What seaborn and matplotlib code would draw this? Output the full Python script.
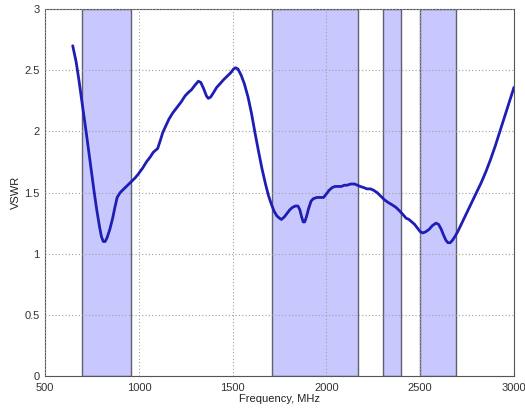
import matplotlib
matplotlib.use("Agg")
import matplotlib.pyplot as plt
import seaborn as sns
import pandas as pd

freq_mhz = [647, 665, 680, 700, 720, 740, 760, 775, 790, 800, 810, 820, 830, 845, 860, 872,
            884, 900, 920, 940, 960, 980, 996, 1020, 1040, 1060, 1077, 1100,
            1115, 1127, 1145, 1160, 1180, 1200, 1225, 1246, 1265, 1280, 1300, 1317, 1330,
            1345, 1360, 1370, 1382, 1395, 1415, 1433, 1450, 1470, 1490, 1505, 1515, 1528,
            1545, 1562, 1582, 1600, 1620, 1640, 1657, 1675, 1690, 1705, 1720, 1735, 1750,
            1760, 1775, 1790, 1805, 1820, 1835, 1848, 1858, 1868, 1876, 1884, 1893, 1905,
            1918, 1930, 1950, 1970, 1985, 2000, 2015, 2030, 2046, 2065, 2080, 2095, 2110,
            2130, 2150, 2165, 2180, 2200, 2216, 2235, 2250, 2270, 2290, 2310, 2328, 2350,
            2370, 2390, 2408, 2425, 2440, 2455, 2470, 2485, 2500, 2515, 2530, 2548, 2565,
            2584, 2598, 2612, 2625, 2637, 2648, 2660, 2672, 2685, 2700, 2725, 2750, 2775,
            2800, 2825, 2850, 2875, 2900, 2925, 2950, 2975, 3000]
vswr = [2.70, 2.57, 2.42, 2.20, 1.98, 1.75, 1.52, 1.36, 1.22, 1.14, 1.10, 1.10, 1.13, 1.20, 1.29, 1.38,
        1.46, 1.50, 1.53, 1.56, 1.59, 1.62, 1.65, 1.70, 1.75, 1.79, 1.83, 1.86,
        1.93, 1.99, 2.05, 2.10, 2.15, 2.19, 2.24, 2.29, 2.32, 2.34, 2.38, 2.41, 2.40,
        2.35, 2.29, 2.27, 2.28, 2.31, 2.36, 2.39, 2.42, 2.45, 2.48, 2.51, 2.52, 2.51,
        2.46, 2.39, 2.28, 2.15, 1.98, 1.82, 1.69, 1.57, 1.48, 1.41, 1.35, 1.31, 1.29,
        1.28, 1.30, 1.33, 1.36, 1.38, 1.39, 1.39, 1.36, 1.30, 1.26, 1.26, 1.30, 1.37,
        1.43, 1.45, 1.46, 1.46, 1.46, 1.49, 1.52, 1.54, 1.55, 1.55, 1.55, 1.56, 1.56,
        1.57, 1.57, 1.56, 1.55, 1.54, 1.53, 1.53, 1.52, 1.50, 1.47, 1.44, 1.42, 1.40,
        1.38, 1.35, 1.32, 1.29, 1.28, 1.26, 1.24, 1.21, 1.18, 1.17, 1.18, 1.20, 1.23,
        1.25, 1.24, 1.20, 1.15, 1.11, 1.09, 1.09, 1.11, 1.14, 1.18, 1.26, 1.34, 1.42,
        1.50, 1.58, 1.67, 1.77, 1.88, 2.00, 2.12, 2.24, 2.36]

band_lo = [698, 1710, 2300, 2500]
band_hi = [960, 2170, 2400, 2690]

x_ticks = [500, 1000, 1500, 2000, 2500, 3000]
y_ticks = [0, 0.5, 1, 1.5, 2, 2.5, 3]
y_tick_labels = ["0", "0.5", "1", "1.5", "2", "2.5", "3"]

sns.set_style("white")
plt.rcParams["font.family"] = ["Liberation Sans", "DejaVu Sans"]

fig = plt.figure(figsize=(5.25, 4.11), dpi=100)
ax = fig.add_axes([0.086, 0.085, 0.893, 0.893])

for lo, hi in zip(band_lo, band_hi):
    ax.axvspan(lo, hi, facecolor="#c8c8ff", edgecolor="#606070", linewidth=1.0, zorder=1)

df = pd.DataFrame({"Frequency": freq_mhz, "VSWR": vswr})
sns.lineplot(data=df, x="Frequency", y="VSWR", ax=ax, color="#1e1eb4", linewidth=2.0, zorder=3)

ax.set_xlim(500, 3000)
ax.set_ylim(0, 3)
ax.set_xticks(x_ticks)
ax.set_yticks(y_ticks)
ax.set_yticklabels(y_tick_labels)
ax.grid(True, linestyle=(0, (1, 2)), color="#a0a0a0", linewidth=0.8, zorder=2)
ax.set_axisbelow(False)
ax.tick_params(direction="in", length=3, labelsize=8, colors="#333333")
ax.tick_params(axis="x", pad=5)
ax.tick_params(axis="y", pad=4)
for s in ax.spines.values():
    s.set_color("#555555")
    s.set_linewidth(0.8)
ax.set_xlabel("Frequency, MHz", fontsize=8, color="#222222", labelpad=1)
ax.set_ylabel("VSWR", fontsize=8, color="#222222", labelpad=2)

fig.savefig("out.png", dpi=100)
